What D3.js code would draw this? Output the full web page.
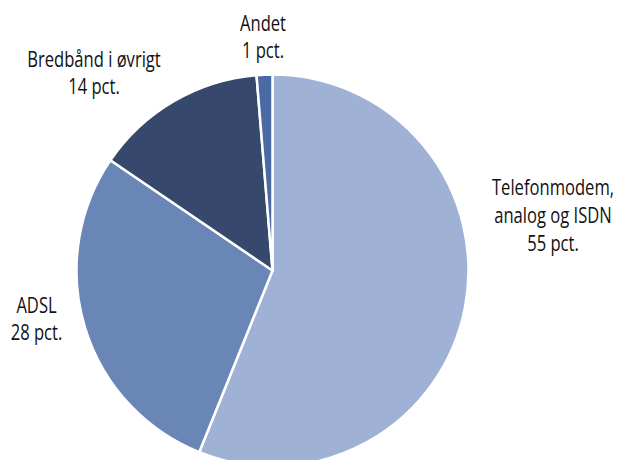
<!DOCTYPE html>
<html>
<head>
<meta charset="utf-8">
<script src="https://cdn.jsdelivr.net/npm/d3@7/dist/d3.min.js"></script>
<style>
  html, body { margin: 0; padding: 0; background: #ffffff; }
  svg { display: block; }
  .lbl { font-family: "Open Sans", "Noto Sans", sans-serif; font-size: 21px; fill: #111111; }
</style>
</head>
<body>
<svg id="chart" width="617" height="460"></svg>
<script>
const categories = ["Telefonmodem, analog og ISDN", "ADSL", "Bredbånd i øvrigt", "Andet"];
const values = [56.1, 28.4, 14.2, 1.3];
const labelLines = [
  ["Telefonmodem,", "analog og ISDN", "55 pct."],
  ["ADSL", "28 pct."],
  ["Bredbånd i øvrigt", "14 pct."],
  ["Andet", "1 pct."]
];
const colors = ["#a0b1d6", "#6a86b6", "#36486c", "#4b69a3"];

const svg = d3.select("#chart");
const cx = 272.5, cy = 270.5, radius = 196;

const pie = d3.pie().sort(null).value(d => d)(values);
const arc = d3.arc().innerRadius(0).outerRadius(radius);
const color = d3.scaleOrdinal().domain(categories).range(colors);

const g = svg.append("g").attr("transform", `translate(${cx},${cy})`);
g.selectAll("path").data(pie).join("path")
  .attr("d", arc)
  .attr("fill", (d, i) => color(categories[i]))
  .attr("stroke", "#ffffff")
  .attr("stroke-width", 2.5)
  .attr("stroke-linejoin", "round");

// label anchor positions (first baseline) for each slice
const labelPos = [
  [553, 195],
  [36.5, 312.5],
  [94, 66.5],
  [263, 30.5]
];
const lineH = 28;
const squeeze = 0.79;

labelLines.forEach((lines, i) => {
  const t = svg.append("text").attr("class", "lbl")
    .attr("text-anchor", "middle")
    .attr("transform", `translate(${labelPos[i][0]},${labelPos[i][1]}) scale(${squeeze},1)`);
  lines.forEach((ln, j) => {
    t.append("tspan").attr("x", 0).attr("dy", j === 0 ? 0 : lineH).text(ln);
  });
});
</script>
</body>
</html>
